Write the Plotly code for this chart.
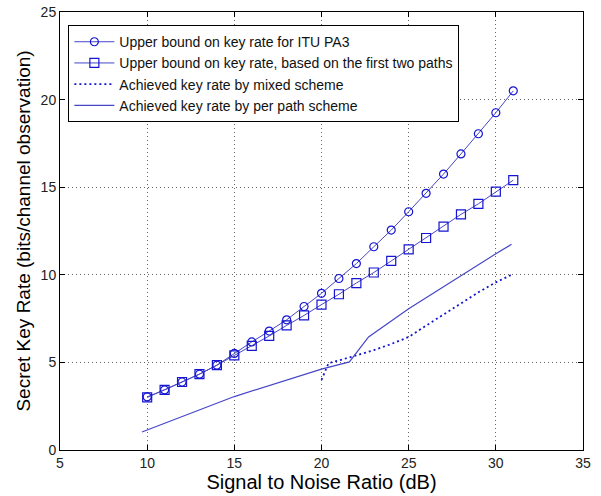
import plotly.graph_objects as go

snr = list(range(10, 32))
ub_itu = [3.03, 3.43, 3.88, 4.33, 4.84, 5.51, 6.17, 6.79, 7.43, 8.19, 8.94,
          9.79, 10.64, 11.6, 12.55, 13.6, 14.65, 15.75, 16.9, 18.05, 19.25, 20.5]
ub_two = [3.0, 3.43, 3.88, 4.33, 4.84, 5.40, 5.94, 6.51, 7.11, 7.68, 8.30,
          8.89, 9.53, 10.13, 10.79, 11.45, 12.1, 12.75, 13.45, 14.05, 14.75, 15.4]
mixed_x = [20, 20.4, 21.6, 22, 23, 24, 25, 26, 27, 28, 29, 30, 30.9]
mixed_y = [4.0, 4.95, 5.28, 5.4, 5.7, 6.05, 6.45, 7.1, 7.75, 8.4, 9.0, 9.57, 10.0]
perpath_x = [9.7, 15, 20, 21.6, 22.7, 25, 30, 30.9]
perpath_y = [1.03, 3.05, 4.62, 5.03, 6.45, 8.06, 11.2, 11.74]

names = ["Upper bound on key rate for ITU PA3",
         "Upper bound on key rate, based on the first two paths",
         "Achieved key rate by mixed scheme",
         "Achieved key rate by per path scheme"]

line_col = "#4646c8"
mark_col = "#1414d2"

fig = go.Figure()
fig.add_trace(go.Scatter(x=snr, y=ub_itu, name=names[0], mode="lines+markers",
                         line=dict(color=line_col, width=1),
                         marker=dict(symbol="circle-open", size=8, color=mark_col, line=dict(width=1.2))))
fig.add_trace(go.Scatter(x=snr, y=ub_two, name=names[1], mode="lines+markers",
                         line=dict(color=line_col, width=1),
                         marker=dict(symbol="square-open", size=9, color=mark_col, line=dict(width=1.2))))
fig.add_trace(go.Scatter(x=mixed_x, y=mixed_y, name=names[2], mode="lines",
                         line=dict(color=mark_col, width=1.8, dash="2px,3px")))
fig.add_trace(go.Scatter(x=perpath_x, y=perpath_y, name=names[3], mode="lines",
                         line=dict(color=line_col, width=1.2)))

axis_common = dict(showline=True, linecolor="black", linewidth=1, mirror="ticks",
                   ticks="inside", ticklen=5, tickcolor="black",
                   showgrid=True, gridcolor="#666666", griddash="1px,3px", gridwidth=1,
                   zeroline=False, tickfont=dict(family="Liberation Sans, Arial", size=14, color="#222222"))

fig.update_layout(
    width=601, height=496,
    margin=dict(l=60, r=18, t=12, b=46, autoexpand=False),
    paper_bgcolor="white", plot_bgcolor="white",
    font=dict(family="Liberation Sans, Arial", color="black"),
    xaxis=dict(range=[5, 35], tickvals=[5, 10, 15, 20, 25, 30, 35],
               title=dict(text="Signal to Noise Ratio (dB)", font=dict(size=20), standoff=0),
               ticklabelstandoff=0,
               **axis_common),
    yaxis=dict(range=[0, 25], tickvals=[0, 5, 10, 15, 20, 25],
               title=dict(text="Secret Key Rate (bits/channel observation)", font=dict(size=19), standoff=4),
               **axis_common),
    legend=dict(x=0.016, y=0.970, xanchor="left", yanchor="top",
                bgcolor="white", bordercolor="black", borderwidth=1,
                font=dict(size=14, color="#111111"), tracegroupgap=0,
                itemwidth=40),
    showlegend=True,
)

fig.write_html("out.html", config={"displayModeBar": False},
               post_script="document.body.style.margin='0';")
